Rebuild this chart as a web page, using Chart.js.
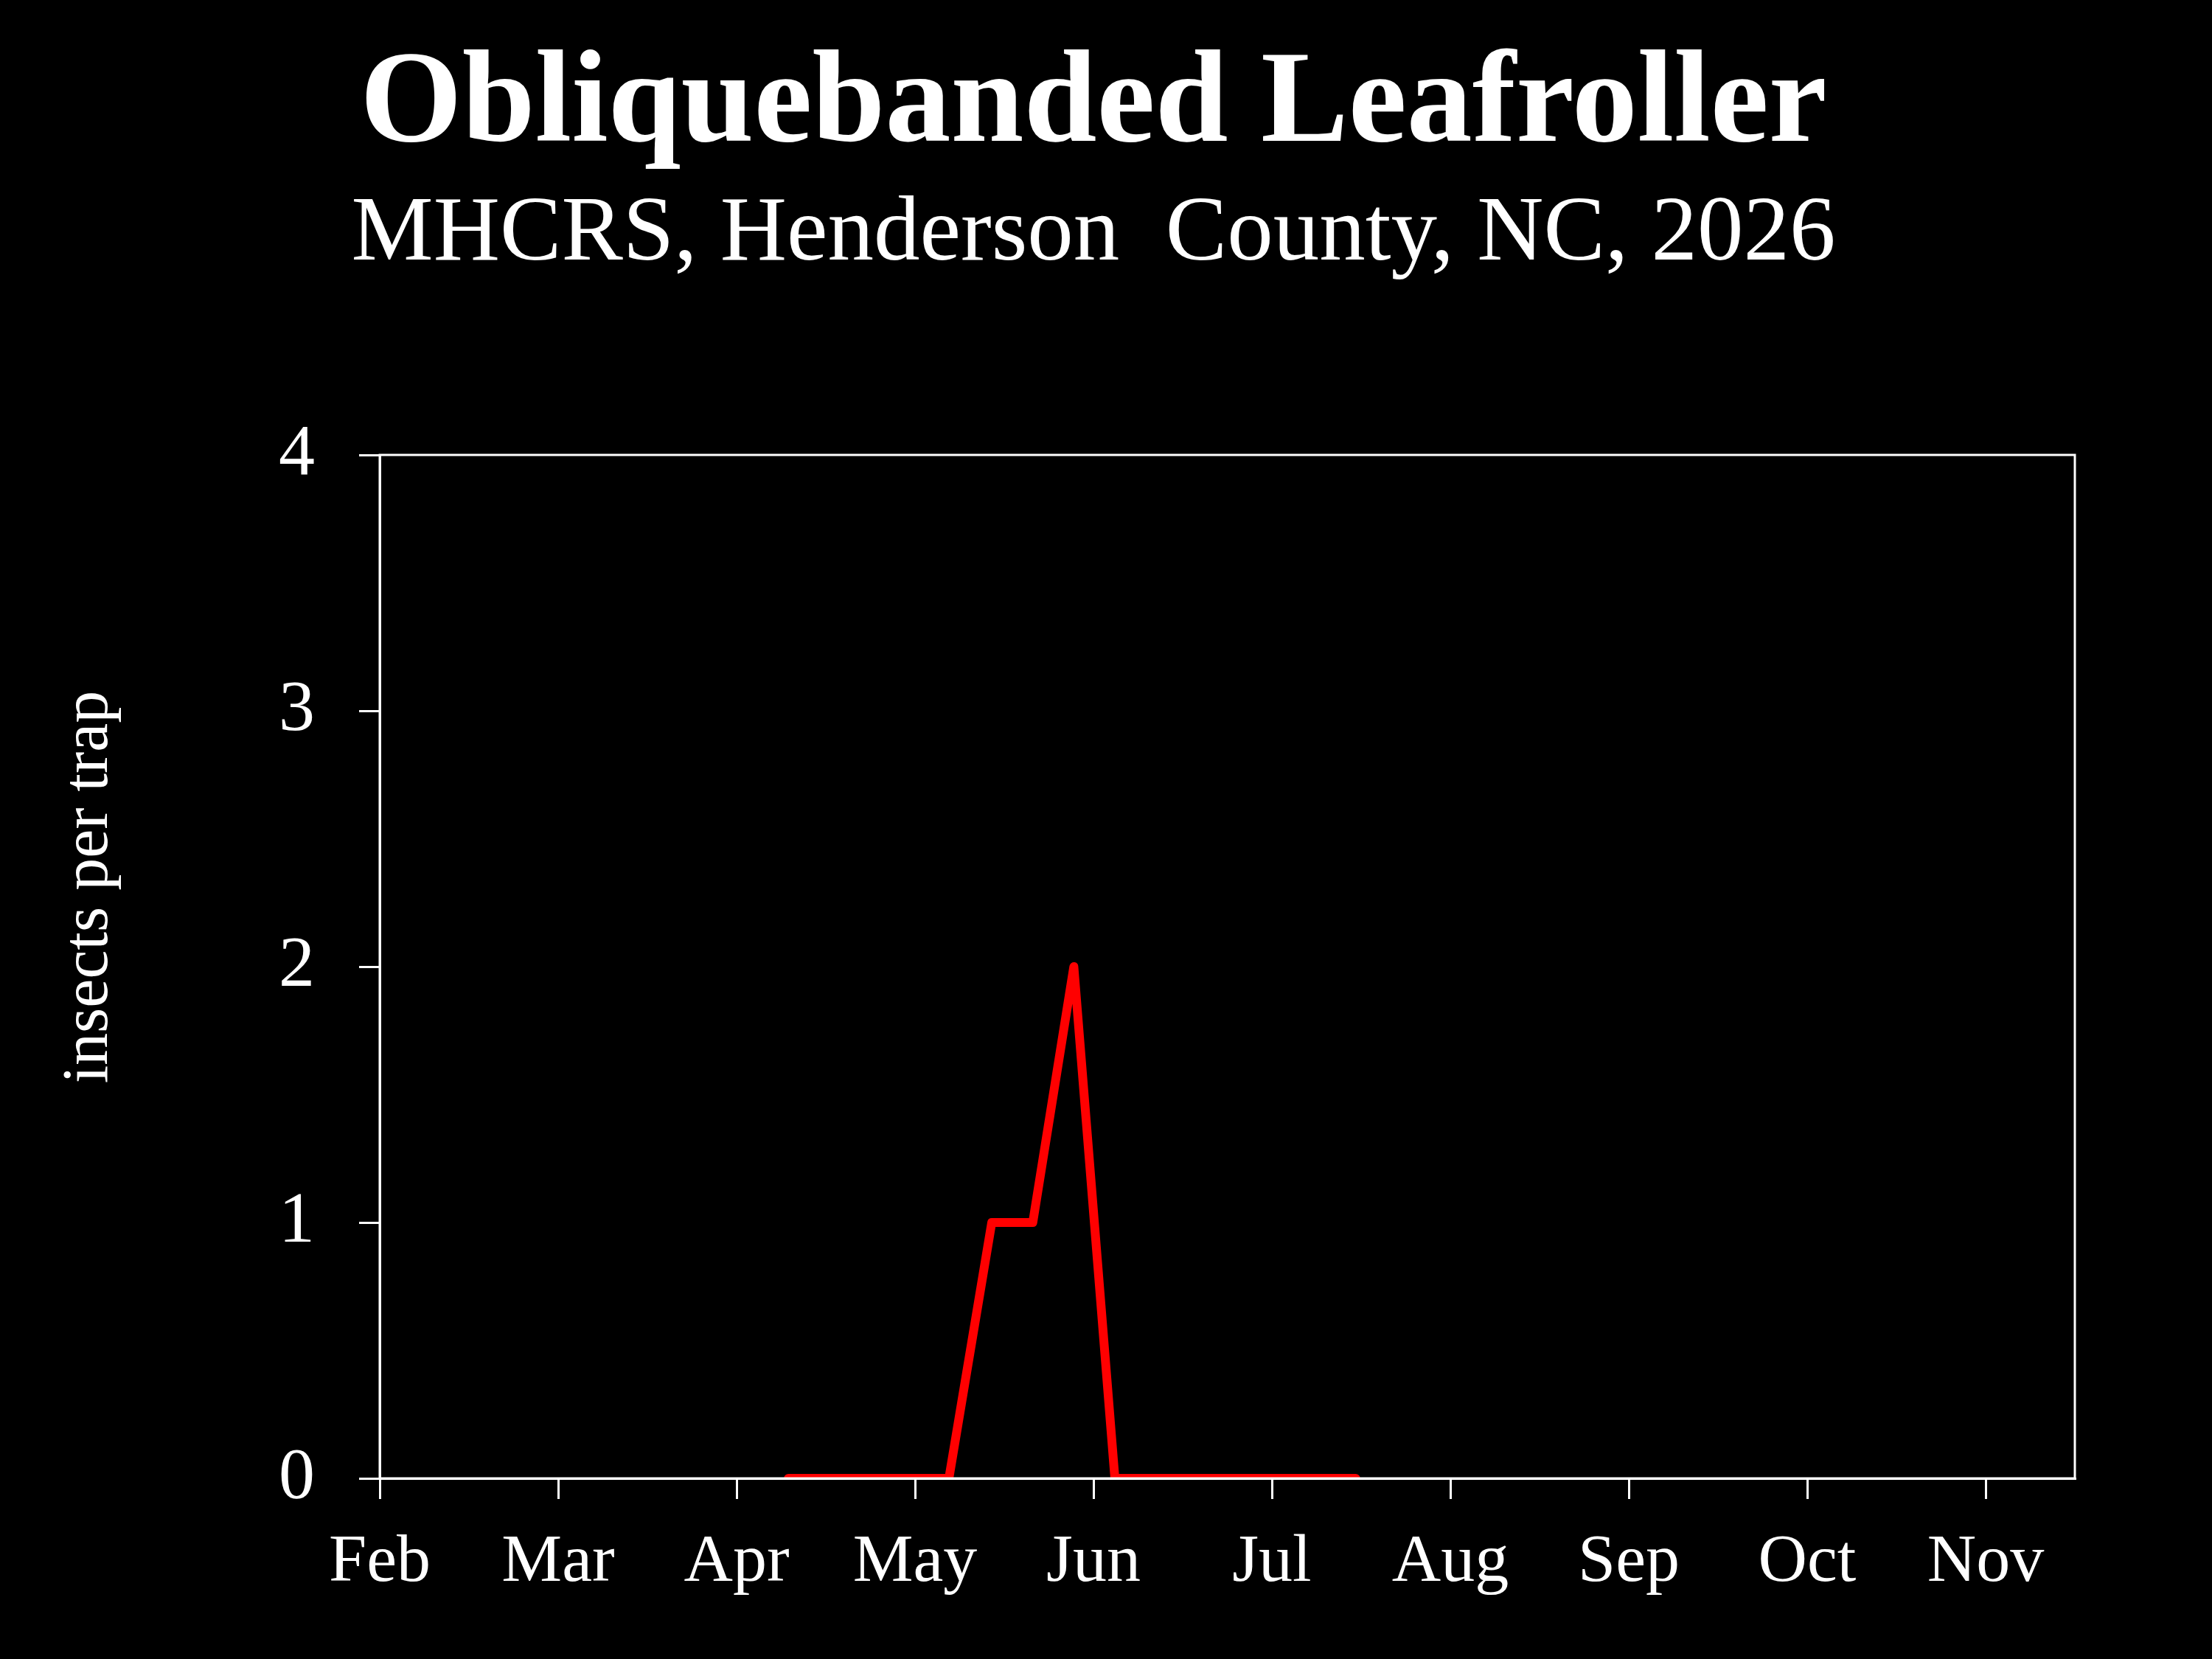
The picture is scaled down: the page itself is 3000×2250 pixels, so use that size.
<!DOCTYPE html>
<html>
<head>
<meta charset="utf-8">
<title>Obliquebanded Leafroller</title>
<script src="https://cdn.jsdelivr.net/npm/chart.js@4.4.1/dist/chart.umd.min.js"></script>
<style>
  html, body { margin: 0; padding: 0; background: #000; }
  #wrap { width: 3000px; height: 2250px; }
</style>
</head>
<body>
<div id="wrap"><canvas id="chart" width="3000" height="2250"></canvas></div>
<script>
// x is in month units (2 = Feb ... 11 = Nov), one point per weekly trap check
const monthTicks = [2, 3, 4, 5, 6, 7, 8, 9, 10, 11];
const monthLabels = ['Feb', 'Mar', 'Apr', 'May', 'Jun', 'Jul', 'Aug', 'Sep', 'Oct', 'Nov'];
const sampleDates = [4.29, 4.51, 4.74, 4.97, 5.19, 5.43, 5.66, 5.89, 6.12, 6.34, 6.57, 6.80, 7.02, 7.25, 7.47];
const trapCounts = [0, 0, 0, 0, 0, 1, 1, 2, 0, 0, 0, 0, 0, 0, 0];
const yTicks = [0, 1, 2, 3, 4];

const serif = "'Liberation Serif', 'DejaVu Serif', serif";
Chart.defaults.font.family = serif;
Chart.defaults.color = '#ffffff';

// box round the plot + rotated y label placed like the original
const frame = {
  id: 'frame',
  afterDraw(chart) {
    const { ctx, chartArea: a } = chart;
    ctx.save();
    ctx.strokeStyle = '#ffffff';
    ctx.lineWidth = 3;
    ctx.strokeRect(a.left, a.top, a.right - a.left, a.bottom - a.top);
    ctx.translate(145, 1203);
    ctx.rotate(-Math.PI / 2);
    ctx.fillStyle = '#ffffff';
    ctx.font = '88px ' + serif;
    ctx.textAlign = 'center';
    ctx.textBaseline = 'alphabetic';
    ctx.fillText('insects per trap', 0, 0);
    ctx.restore();
  }
};

new Chart(document.getElementById('chart'), {
  type: 'line',
  data: {
    datasets: [{
      data: sampleDates.map((x, i) => ({ x: x, y: trapCounts[i] })),
      borderColor: '#ff0000',
      borderWidth: 12,
      borderCapStyle: 'round',
      borderJoinStyle: 'round',
      pointRadius: 0,
      tension: 0,
      fill: false
    }]
  },
  options: {
    responsive: false,
    devicePixelRatio: 1,
    animation: false,
    layout: { padding: { left: 0, right: 34, top: 0, bottom: 0 } },
    plugins: {
      legend: { display: false },
      tooltip: { enabled: false },
      title: {
        display: true,
        text: 'Obliquebanded Leafroller',
        color: '#ffffff',
        font: { size: 178, weight: 'bold', lineHeight: 1 },
        padding: { top: 56, bottom: 23 }
      },
      subtitle: {
        display: true,
        text: 'MHCRS, Henderson  County, NC, 2026',
        color: '#ffffff',
        font: { size: 125, lineHeight: 1 },
        padding: { top: 0, bottom: 235 }
      }
    },
    scales: {
      x: {
        type: 'linear',
        min: 2,
        max: 11.5,
        afterBuildTicks: (s) => { s.ticks = monthTicks.map(v => ({ value: v })); },
        afterFit: (s) => { s.height = 245; },
        ticks: {
          color: '#ffffff',
          font: { size: 92 },
          padding: 32,
          maxRotation: 0,
          autoSkip: false,
          callback: (v) => monthLabels[monthTicks.indexOf(v)]
        },
        grid: { drawOnChartArea: false, drawTicks: true, tickLength: 28, color: '#ffffff', lineWidth: 3 },
        border: { display: true, color: '#ffffff', width: 3 }
      },
      y: {
        min: 0,
        max: 4,
        afterBuildTicks: (s) => { s.ticks = yTicks.map(v => ({ value: v })); },
        afterFit: (s) => { s.width = 515; },
        ticks: {
          color: '#ffffff',
          font: { size: 98 },
          padding: 60
        },
        grid: { drawOnChartArea: false, drawTicks: true, tickLength: 28, color: '#ffffff', lineWidth: 3 },
        border: { display: true, color: '#ffffff', width: 3 }
      },
      // empty right margin so the titles centre on the page, not the plot
      yRight: {
        position: 'right',
        min: 0,
        max: 4,
        afterFit: (s) => { s.width = 152; },
        ticks: { display: false },
        grid: { display: false },
        border: { display: false }
      }
    }
  },
  plugins: [frame]
});
</script>
</body>
</html>
